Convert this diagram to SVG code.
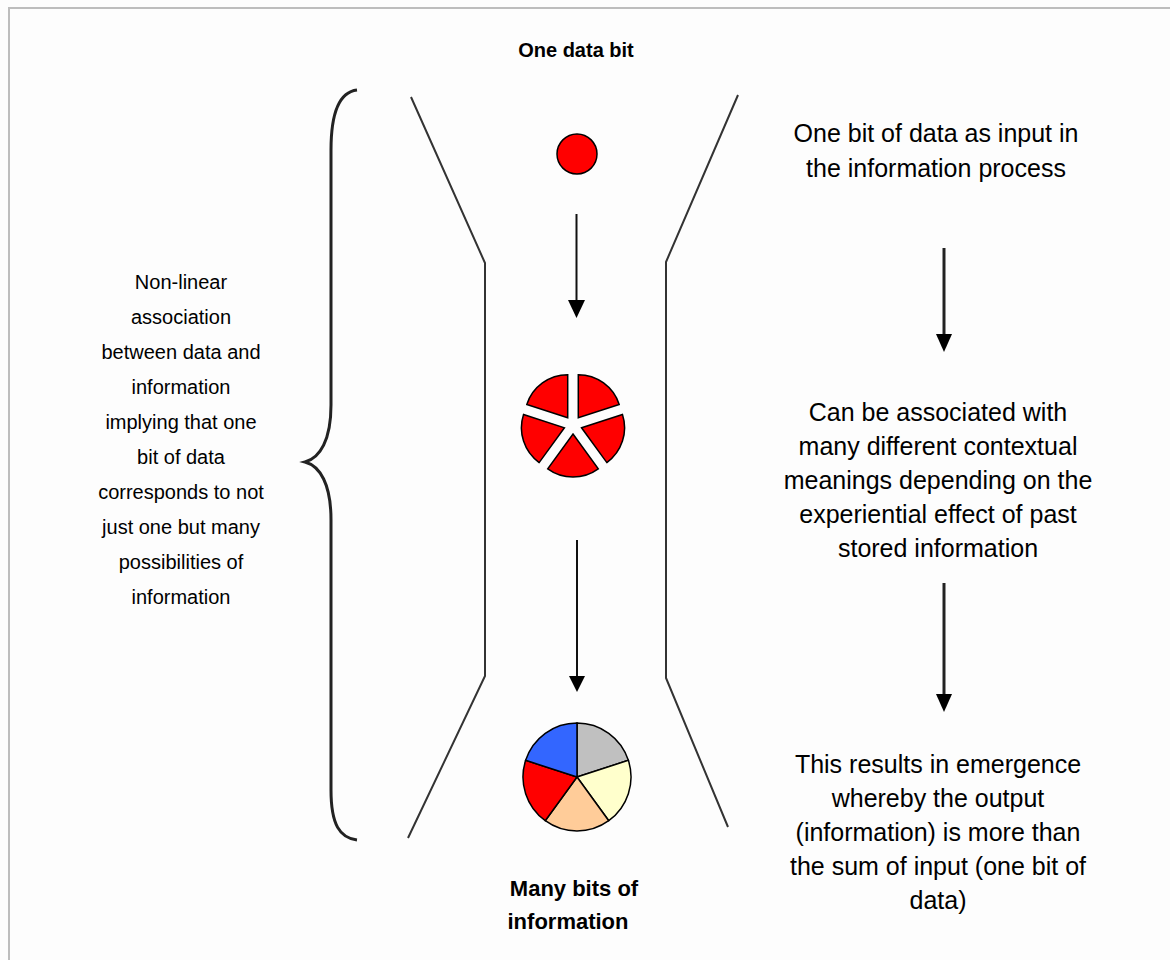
<svg xmlns="http://www.w3.org/2000/svg" width="1170" height="960" viewBox="0 0 1170 960">
<style>
.bg{fill:#fdfdfd}
.frame{fill:none;stroke:#bdbdbd;stroke-width:2}
.funnel{fill:none;stroke:#333;stroke-width:2}
.brace{fill:none;stroke:#222;stroke-width:3}
.conn{stroke:#111;stroke-width:2;fill:none}
.conn2{stroke:#222;stroke-width:3;fill:none}
.head{fill:#000}
.t{font-family:"Liberation Sans",Arial,sans-serif;font-size:20px;fill:#000;text-anchor:middle}
.r{font-size:25px}
.b{font-weight:bold}
.bb{font-size:22px}
.sl{stroke:#000;stroke-width:1.5}
</style>
<rect class="bg" x="0" y="0" width="1170" height="960"/>
<path class="frame" d="M9,962 L9,8 L1170,8"/>
<g id="funnel">
<polyline class="funnel" points="411,97 485,263 485,676 408,838"/>
<polyline class="funnel" points="738,95 666,262 666,678 728,827"/>
</g>
<g id="brace">
<path class="brace" d="M357,90 C340,92 331,110 331,150 L331,405 C331,440 320,458 305,462 C320,466 331,484 331,520 L331,790 C331,825 340,838 357,840"/>
</g>
<g id="connectors">
<line class="conn" x1="576.5" y1="214" x2="576.5" y2="302"/>
<polygon class="head" points="568,300 585,300 576.5,318"/>
<line class="conn" x1="577" y1="540" x2="577" y2="678"/>
<polygon class="head" points="569,676 585,676 577,692"/>
<line class="conn2" x1="944" y1="248" x2="944" y2="336"/>
<polygon class="head" points="936,334 952,334 944,352"/>
<line class="conn2" x1="944" y1="583" x2="944" y2="696"/>
<polygon class="head" points="936,694 952,694 944,712"/>
</g>
<g id="title-top"><text class="t b" x="576" y="57">One data bit</text></g>
<g id="data-bit"><circle cx="577" cy="154" r="20" fill="#ff0000" stroke="#000" stroke-width="1.5"/></g>
<g id="exploded-pie" fill="#ff0000">
<path class="sl" d="M578.29,417.72 L578.29,374.72 A43,43 0 0 1 619.19,404.43 Z"/>
<path class="sl" d="M581.56,427.78 L622.46,414.49 A43,43 0 0 1 606.83,462.57 Z"/>
<path class="sl" d="M573,434 L598.27,468.79 A43,43 0 0 1 547.73,468.79 Z"/>
<path class="sl" d="M564.44,427.78 L539.17,462.57 A43,43 0 0 1 523.54,414.49 Z"/>
<path class="sl" d="M567.71,417.72 L526.81,404.43 A43,43 0 0 1 567.71,374.72 Z"/>
</g>
<g id="full-pie">
<path class="sl" fill="#c0c0c0" d="M577,777 L577,723 A54,54 0 0 1 628.36,760.31 Z"/>
<path class="sl" fill="#ffffcc" d="M577,777 L628.36,760.31 A54,54 0 0 1 608.74,820.69 Z"/>
<path class="sl" fill="#ffcc99" d="M577,777 L608.74,820.69 A54,54 0 0 1 545.26,820.69 Z"/>
<path class="sl" fill="#ff0000" d="M577,777 L545.26,820.69 A54,54 0 0 1 525.64,760.31 Z"/>
<path class="sl" fill="#3366ff" d="M577,777 L525.64,760.31 A54,54 0 0 1 577,723 Z"/>
</g>
<g id="title-bottom">
<text class="t b bb" x="574" y="896">Many bits of</text>
<text class="t b bb" x="568" y="929">information</text>
</g>
<g id="left-text">
<text class="t" x="181" y="289">Non-linear</text>
<text class="t" x="181" y="324">association</text>
<text class="t" x="181" y="359">between data and</text>
<text class="t" x="181" y="394">information</text>
<text class="t" x="181" y="429">implying that one</text>
<text class="t" x="181" y="464">bit of data</text>
<text class="t" x="181" y="499">corresponds to not</text>
<text class="t" x="181" y="534">just one but many</text>
<text class="t" x="181" y="569">possibilities of</text>
<text class="t" x="181" y="604">information</text>
</g>
<g id="right-text-1">
<text class="t r" x="936" y="142">One bit of data as input in</text>
<text class="t r" x="936" y="177">the information process</text>
</g>
<g id="right-text-2">
<text class="t r" x="938" y="421">Can be associated with</text>
<text class="t r" x="938" y="455">many different contextual</text>
<text class="t r" x="938" y="489">meanings depending on the</text>
<text class="t r" x="938" y="523">experiential effect of past</text>
<text class="t r" x="938" y="557">stored information</text>
</g>
<g id="right-text-3">
<text class="t r" x="938" y="773">This results in emergence</text>
<text class="t r" x="938" y="807">whereby the output</text>
<text class="t r" x="938" y="841">(information) is more than</text>
<text class="t r" x="938" y="875">the sum of input (one bit of</text>
<text class="t r" x="938" y="909">data)</text>
</g>
</svg>
